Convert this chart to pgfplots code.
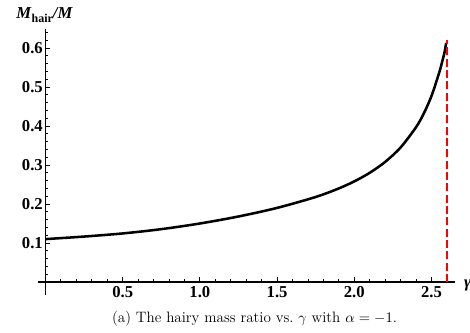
\documentclass[border=0pt]{standalone}
\usepackage{pgfplots}
\pgfplotsset{compat=1.18}
\usepackage{fontspec}
\newfontfamily\tf{Liberation Serif}
\begin{document}
\begin{tikzpicture}
\begin{axis}[
  name=ax,
  scale only axis, width=312.66pt, height=199.78pt,
  xmin=-0.05, xmax=2.65, ymin=-0.033, ymax=0.65,
  axis lines=middle, axis line style={-, line width=0.9pt},
  clip=false,
  xtick={0.5,1.0,1.5,2.0,2.5},
  xticklabels={0.5,1.0,1.5,2.0,2.5},
  ytick={0.1,0.2,0.3,0.4,0.5,0.6},
  yticklabels={0.1,0.2,0.3,0.4,0.5,0.6},
  minor xtick={0.1,0.2,0.3,0.4,0.6,0.7,0.8,0.9,1.1,1.2,1.3,1.4,1.6,1.7,1.8,1.9,2.1,2.2,2.3,2.4,2.6},
  minor ytick={0.02,0.04,0.06,0.08,0.12,0.14,0.16,0.18,0.22,0.24,0.26,0.28,0.32,0.34,0.36,0.38,0.42,0.44,0.46,0.48,0.52,0.54,0.56,0.58,0.62,0.64},
  tick align=inside,
  major tick length=3.5pt, minor tick length=2pt,
  tick style={black, line width=0.7pt},
  /pgf/number format/assume math mode=true,
  tick label style={font=\tf\bfseries\fontsize{12.5}{14}\selectfont},
  y tick label style={xshift=1.5pt},
]
\addplot[black, line width=1.9pt, smooth] coordinates {
(0.00,0.110) (0.25,0.1165) (0.50,0.1245) (0.75,0.1355) (1.00,0.150)
(1.25,0.168) (1.50,0.190) (1.75,0.218) (1.90,0.240) (2.00,0.258)
(2.10,0.280) (2.20,0.308) (2.30,0.345) (2.40,0.397) (2.45,0.432)
(2.50,0.477) (2.55,0.537) (2.57,0.566) (2.585,0.590) (2.595,0.613)
};
\addplot[red, line width=1.6pt, dash pattern=on 6pt off 2.5pt] coordinates {(2.6,0) (2.6,0.62)};
\node[font=\tf\bfseries\fontsize{12.5}{14}\selectfont] at (axis cs:-0.006,0.685)
  {\textit{M}\raisebox{-0.25em}{\fontsize{9}{10}\selectfont hair}\textit{/M}};
\node[anchor=west, inner sep=0pt, font=\tf\bfseries\itshape\fontsize{12.5}{14}\selectfont] at (axis cs:2.71,-0.008) {γ};
\node[font=\fontsize{11.3}{13}\selectfont] at (axis cs:1.354,-0.095)
  {(a) The hairy mass ratio vs.\ $\gamma$ with $\alpha=-1$.};
\end{axis}
\pgfresetboundingbox
\path[use as bounding box] (-28.34pt,-28.6pt) rectangle (324.17pt,221.15pt);
\end{tikzpicture}
\end{document}
